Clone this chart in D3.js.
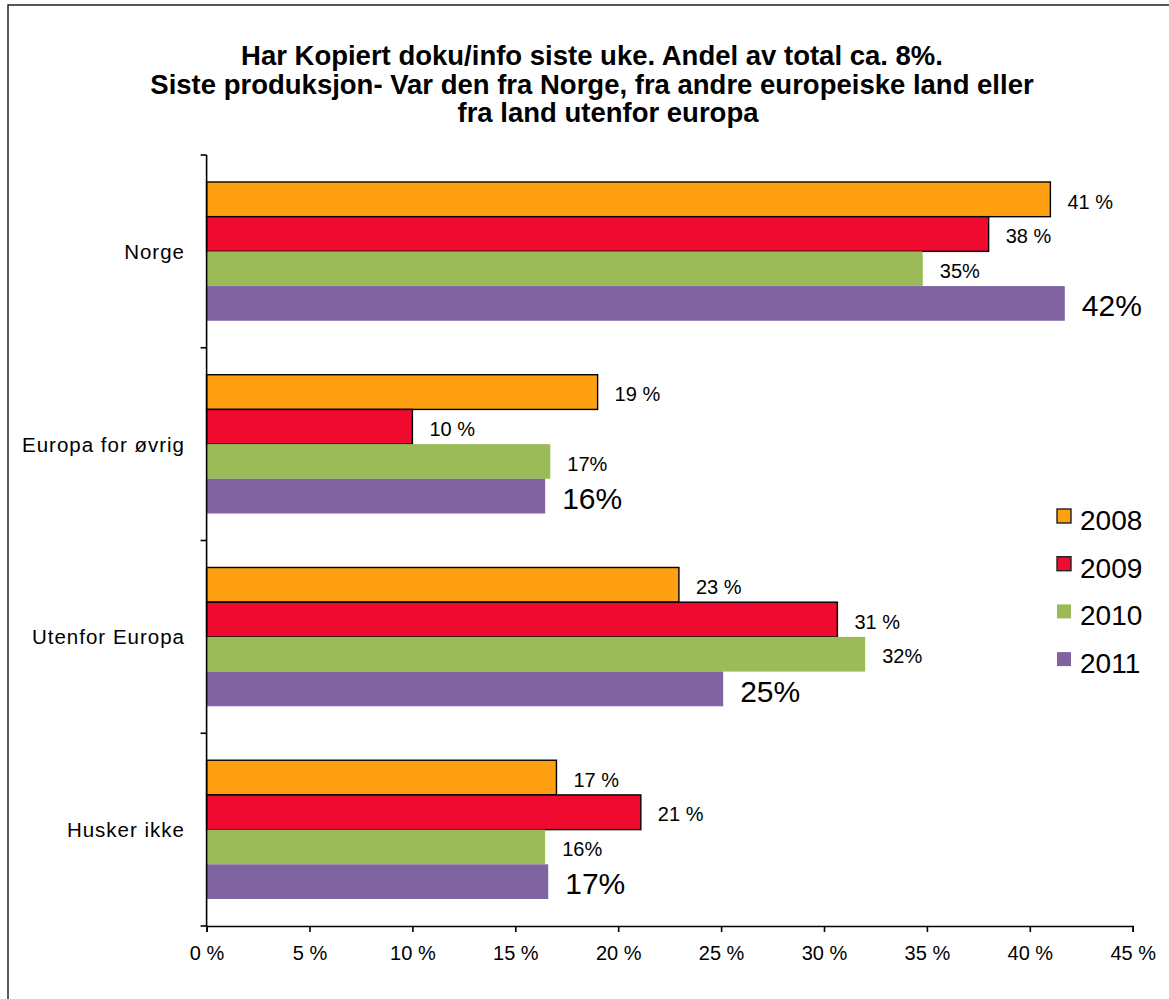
<!DOCTYPE html>
<html>
<head>
<meta charset="utf-8">
<script src="https://cdn.jsdelivr.net/npm/d3@7"></script>
<style>
  html, body { margin: 0; padding: 0; background: #fff; }
  svg { display: block; font-family: Arial, "Liberation Sans", sans-serif; }
</style>
</head>
<body>
<svg id="chart" width="1169" height="999"></svg>
<script>
// ---- Data ----
const titleLines = [
  "Har Kopiert doku/info siste uke. Andel av total ca. 8%.",
  "Siste produksjon- Var den fra Norge, fra andre europeiske land eller",
  "fra land utenfor europa"
];
const categories = ["Norge", "Europa for øvrig", "Utenfor Europa", "Husker ikke"];
const seriesNames = ["2008", "2009", "2010", "2011"];
const values2008 = [41.0, 19.0, 22.95, 17.0];
const values2009 = [38.0, 10.0, 30.65, 21.1];
const values2010 = [34.8, 16.7, 32.0, 16.45];
const values2011 = [41.7, 16.45, 25.1, 16.6];
const xTicks = [0, 5, 10, 15, 20, 25, 30, 35, 40, 45];

const seriesValues = [values2008, values2009, values2010, values2011];
const colors = ["#FF9F12", "#EF0A30", "#9BBB59", "#8064A2"];
const stroked = [true, true, false, false];
const labelFormat = [v => d3.format(".0f")(v) + " %", v => d3.format(".0f")(v) + " %",
                     v => d3.format(".0f")(v) + "%", v => d3.format(".0f")(v) + "%"];
const labelSize = [20, 20, 20, 30];

const svg = d3.select("#chart");
svg.append("rect").attr("width", 1169).attr("height", 999).attr("fill", "#fff");

// outer frame (left and top edges visible)
svg.append("path")
  .attr("d", "M8,999 L8,5 L1169,5")
  .attr("fill", "none").attr("stroke", "#222").attr("stroke-width", 1.5);

// Title
const title = svg.append("text")
  .attr("font-weight", "bold").attr("font-size", 27.5).attr("fill", "#000")
  .attr("text-anchor", "middle");
const titleX = [592, 592, 608];
const titleY = [65, 94, 121.5];
titleLines.forEach((t, i) => {
  title.append("tspan").attr("x", titleX[i]).attr("y", titleY[i]).text(t);
});

// Scales
const x = d3.scaleLinear().domain([0, 45]).range([206.6, 1132.7]);
const y = d3.scaleBand().domain(categories).range([155, 926])
  .paddingInner(0.28).paddingOuter(0.14);
const ySub = d3.scaleBand().domain(seriesNames).range([0, y.bandwidth()]);

// Bars
const g = svg.append("g");
categories.forEach((cat, ci) => {
  seriesNames.forEach((s, si) => {
    const v = seriesValues[si][ci];
    const y0 = y(cat) + ySub(s);
    g.append("rect")
      .attr("x", x(0)).attr("y", y0)
      .attr("width", x(v) - x(0)).attr("height", ySub.bandwidth())
      .attr("fill", colors[si])
      .attr("stroke", stroked[si] ? "#000" : "none")
      .attr("stroke-width", 1.4);
    const fs = labelSize[si];
    g.append("text")
      .attr("x", x(v) + 17)
      .attr("y", y0 + ySub.bandwidth() / 2 + fs * 0.36 + 2)
      .attr("font-size", fs).attr("fill", "#000")
      .text(labelFormat[si](v));
  });
});

// Y axis
const axisColor = "#000";
svg.append("line")
  .attr("x1", x(0)).attr("x2", x(0)).attr("y1", 155).attr("y2", 926)
  .attr("stroke", axisColor).attr("stroke-width", 1.6);
const boundaries = categories.map(c => y(c) - y.step() * y.paddingInner() / 2)
  .concat([y.range()[1]]);
boundaries.forEach(b => {
  svg.append("line")
    .attr("x1", x(0) - 6).attr("x2", x(0)).attr("y1", b).attr("y2", b)
    .attr("stroke", axisColor).attr("stroke-width", 1.6);
});
categories.forEach(c => {
  svg.append("text")
    .attr("x", 185).attr("y", y(c) + y.bandwidth() / 2 + 7.5)
    .attr("text-anchor", "end").attr("font-size", 20.5)
    .attr("letter-spacing", 1).attr("fill", "#000")
    .text(c);
});

// X axis
const xAxis = d3.axisBottom(x).tickValues(xTicks).tickSize(6).tickPadding(14)
  .tickFormat(d => d + " %");
const xg = svg.append("g").attr("transform", "translate(0,926)").call(xAxis);
xg.select(".domain").attr("stroke", axisColor).attr("stroke-width", 1.6);
xg.selectAll(".tick line").attr("stroke", axisColor).attr("stroke-width", 1.6);
xg.selectAll(".tick text").attr("font-size", 20).attr("fill", "#000")
  .attr("font-family", "Arial, 'Liberation Sans', sans-serif");

// Legend
const legend = svg.append("g");
seriesNames.forEach((s, i) => {
  const baseY = 530 + i * 47.7;
  legend.append("rect")
    .attr("x", 1057).attr("y", baseY - 21).attr("width", 14).attr("height", 14)
    .attr("fill", colors[i])
    .attr("stroke", stroked[i] ? "#222" : "none").attr("stroke-width", 1.4);
  legend.append("text")
    .attr("x", 1080).attr("y", baseY)
    .attr("font-size", 28).attr("fill", "#000")
    .text(s);
});
</script>
</body>
</html>
